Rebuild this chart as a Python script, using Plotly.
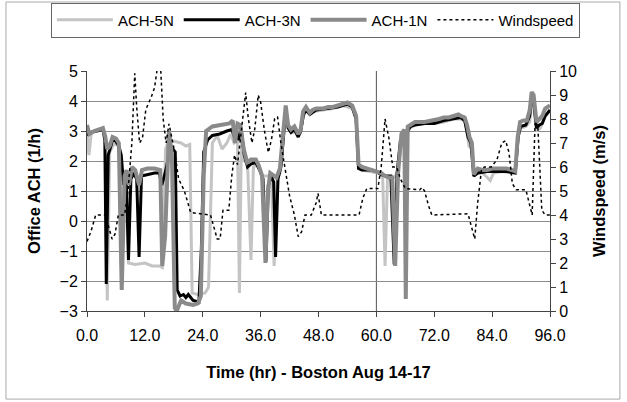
import plotly.graph_objects as go

# ---------------- data ----------------
t_5n = [0, 0.4, 0.9, 2.0, 3.3, 3.8, 4.2, 4.7, 5.5, 6.2, 6.8, 7.2, 7.7, 8.2, 8.6, 10.0, 12.0, 13.5, 15.0, 15.6,
        16.3, 17.0, 18.0, 19.5, 20.5, 21.3, 21.8, 23.0, 24.5, 25.2, 26.0, 27.0, 28.0, 29.0, 29.8, 30.5, 31.2, 31.6,
        32.0, 32.6, 33.3, 34.0, 34.5, 35.5, 36.5, 37.5, 38.2, 38.8, 39.4, 40.0, 40.6, 41.2, 41.8, 42.5, 43.5, 44.2,
        44.8, 45.5, 47.0, 49.0, 51.0, 53.0, 55.0, 55.8, 56.3, 57.0, 59.0, 60.5, 61.3, 61.8, 62.3, 63.3, 64.0, 64.6,
        65.3, 66.0, 66.5, 68.0, 70.0, 72.0, 74.0, 76.0, 77.5, 78.5, 79.2, 79.8, 80.3, 81.0, 82.0, 83.0, 83.6, 84.3,
        86.0, 88.0, 88.8, 89.4, 90.0, 91.0, 91.8, 92.2, 92.6, 93.2, 94.0, 95.0, 96.0]
ach_5n = [2.9, 2.2, 2.95, 3.0, 3.05, 2.8, -2.65, 2.3, 2.55, 2.55, 2.4, -2.2, 1.4, 1.6, -1.4, -1.45, -1.4, -1.5, -1.5, -1.55,
          2.4, 2.7, 2.65, 2.6, 2.5, 2.55, -2.4, -2.45, -2.4, -2.2, 2.6, 2.85, 2.4, 2.6, 2.9, 2.6, 2.7, -2.4,
          2.6, 2.0, 1.9, -1.3, 1.8, 1.9, 1.5, 1.5, 1.6, -1.5, 1.4, 1.6, 2.5, 3.7, 3.1, 2.95, 3.0, 2.9,
          3.5, 3.7, 3.65, 3.7, 3.75, 3.85, 3.75, 3.4, 1.8, 1.7, 1.65, 1.6, 1.5, -1.5, 1.4, 1.4, 1.5, 1.8,
          2.9, 3.0, 3.05, 3.2, 3.25, 3.25, 3.3, 3.4, 3.4, 3.3, 2.5, 2.4, 1.5, 1.6, 1.6, 1.45, 1.35, 1.6,
          1.65, 1.6, 1.6, 2.9, 3.1, 3.15, 3.3, 4.1, 3.8, 3.0, 3.1, 3.5, 3.7]

t_3n = [0, 0.5, 2.0, 3.3, 3.7, 4.0, 4.4, 5.3, 6.0, 6.6, 7.1, 7.6, 8.1, 8.6, 9.1, 9.7, 10.3, 10.8, 11.3, 12.5,
        14.0, 15.0, 15.5, 16.2, 17.0, 17.8, 18.3, 18.7, 19.3, 20.0, 20.5, 21.0, 22.0, 23.2, 23.7, 24.2, 25.0, 26.0,
        27.5, 29.0, 30.0, 30.6, 31.0, 31.5, 32.0, 32.6, 33.3, 34.0, 35.0, 35.8, 36.5, 37.1, 37.6, 38.2, 38.7, 39.1,
        39.6, 40.2, 40.7, 41.2, 41.7, 42.3, 43.0, 43.8, 44.3, 44.9, 45.4, 46.2, 47.5, 50.0, 52.0, 54.0, 55.0, 55.8,
        56.3, 57.0, 59.0, 60.0, 61.0, 62.0, 63.0, 63.7, 64.3, 65.0, 65.6, 66.3, 67.0, 68.0, 70.0, 72.0, 74.0, 76.0,
        77.5, 78.3, 79.0, 79.6, 80.2, 81.0, 83.0, 85.0, 87.0, 88.8, 89.4, 89.9, 91.0, 91.8, 92.2, 92.6, 93.2, 93.8,
        94.4, 95.0, 96.0]
ach_3n = [2.85, 2.95, 3.0, 3.05, 2.7, -2.1, 2.2, 2.7, 2.65, 2.5, 2.2, 1.2, 1.6, -1.3, 1.4, 1.6, 1.4, -1.2, 1.5, 1.55,
          1.6, 1.6, 1.2, 1.6, 2.2, 2.4, 2.3, -2.3, -2.5, -2.45, -2.55, -2.45, -2.65, -2.7, -1.0, 2.3, 2.7, 2.85,
          2.9, 3.0, 3.05, 2.8, 3.0, 2.7, 3.0, 2.2, 1.8, 1.9, 1.95, 1.7, 1.4, -1.35, 1.2, 1.5, 1.3, -1.2,
          1.4, 1.8, 2.7, 3.7, 3.1, 2.95, 3.05, 2.8, 3.0, 3.55, 3.7, 3.55, 3.7, 3.75, 3.8, 3.9, 3.8, 3.4,
          1.75, 1.7, 1.7, 1.65, 1.55, 1.5, 1.5, -1.45, 1.6, 2.7, 2.8, 2.9, 3.15, 3.2, 3.25, 3.25, 3.35, 3.4,
          3.45, 3.35, 2.8, 2.6, 1.5, 1.6, 1.65, 1.65, 1.65, 1.6, 2.8, 3.15, 3.2, 3.5, 4.2, 4.0, 3.1, 3.2,
          3.25, 3.5, 3.7]

t_1n = [0, 0.5, 1.5, 2.5, 3.3, 3.8, 4.2, 4.7, 5.3, 6.0, 6.6, 7.2, 7.8, 8.2, 8.7, 9.3, 10.0, 10.8, 11.4, 12.5,
        14.0, 15.2, 15.6, 16.2, 17.0, 17.6, 18.2, 18.6, 19.5, 20.5, 22.0, 23.0, 23.6, 24.2, 24.7, 26.0, 28.0, 29.5,
        30.2, 30.7, 31.2, 31.8, 32.5, 33.2, 34.0, 35.0, 35.6, 36.3, 37.0, 37.5, 38.0, 38.8, 39.3, 40.0, 40.6, 41.2,
        41.7, 42.3, 43.0, 43.8, 44.3, 44.8, 45.4, 46.2, 46.8, 47.5, 49.0, 50.0, 51.0, 52.0, 53.0, 54.0, 55.0, 55.8,
        56.3, 57.0, 58.0, 59.0, 60.0, 61.0, 61.8, 62.6, 63.3, 63.9, 64.5, 65.2, 65.8, 66.1, 66.5, 67.0, 68.0, 70.0,
        72.0, 73.0, 74.0, 75.0, 76.0, 77.0, 77.6, 78.3, 78.8, 79.3, 79.8, 80.2, 81.0, 82.0, 83.0, 84.0, 85.0, 86.0,
        87.0, 88.0, 88.8, 89.3, 89.8, 90.5, 91.2, 91.8, 92.2, 92.6, 93.2, 93.8, 94.4, 95.0, 96.0]
ach_1n = [3.2, 2.9, 3.0, 3.05, 3.1, 2.8, 2.4, 2.5, 2.8, 2.75, 2.6, -2.3, 1.5, 1.7, 1.2, 1.8, 1.7, 1.2, 1.7, 1.75,
          1.75, 1.7, -1.5, -0.5, 3.0, 2.2, -2.9, -3.0, -2.65, -2.75, -2.8, -2.75, -2.5, 1.5, 3.0, 3.15, 3.2, 3.25,
          3.35, 2.6, 3.25, 3.2, 2.4, 1.95, 2.05, 2.05, 1.85, 1.5, -1.4, 1.0, 1.6, 1.5, 1.45, 1.75, 2.7, 3.85,
          3.2, 3.05, 3.15, 2.9, 3.05, 3.65, 3.8, 3.6, 3.7, 3.75, 3.75, 3.8, 3.8, 3.85, 3.9, 3.95, 3.85, 3.5,
          1.9, 1.8, 1.75, 1.7, 1.65, 1.6, 1.5, 1.45, 1.45, -1.5, 1.6, 2.9, 3.05, -2.6, 3.15, 3.2, 3.3, 3.3,
          3.35, 3.4, 3.45, 3.45, 3.5, 3.55, 3.5, 3.45, 3.2, 2.8, 2.6, 1.55, 1.75, 1.7, 1.7, 1.75, 1.75, 1.75,
          1.75, 1.7, 1.65, 2.8, 3.3, 3.35, 3.35, 3.7, 4.3, 4.2, 3.3, 3.4, 3.5, 3.75, 3.85]

t_wind = [0, 0.8, 1.8, 3.8, 4.5, 5.2, 5.8, 6.5, 7.8, 8.5, 9.3, 9.9, 10.3, 10.9, 11.5, 12.2, 13.3, 14.0, 14.5, 15.3,
          15.8, 16.4, 17.0, 17.6, 18.2, 19.0, 20.2, 21.5, 25.6, 26.3, 27.0, 27.6, 28.2, 29.4, 30.0, 30.6, 31.2, 32.0,
          32.9, 33.4, 34.2, 34.8, 35.5, 36.0, 36.8, 37.6, 38.3, 38.9, 39.5, 40.2, 41.2, 42.0, 43.0, 43.8, 44.5, 45.2,
          46.5, 47.5, 47.9, 48.6, 56.4, 57.2, 58.0, 60.3, 61.0, 61.8, 62.6, 63.4, 64.2, 65.0, 66.0, 69.0, 69.5, 70.0,
          70.8, 71.5, 79.0, 79.7, 80.4, 81.0, 81.8, 82.4, 83.8, 85.0, 86.0, 86.8, 87.5, 88.2, 89.0, 91.0, 91.6, 92.3,
          92.9, 93.5, 94.3, 95.0, 96.0]
windspeed = [2.9, 3.3, 4.0, 4.0, 3.5, 3.0, 3.2, 4.0, 4.0, 5.0, 7.0, 9.9, 8.5, 7.0, 7.2, 8.4, 8.9, 9.3, 10.0, 10.0,
             8.0, 7.0, 7.8, 7.2, 6.6, 5.5, 5.0, 4.1, 4.0, 3.5, 3.0, 3.0, 4.2, 4.2, 5.6, 6.5, 6.1, 7.5,
             9.1, 8.1, 7.0, 7.6, 9.0, 8.7, 7.5, 6.6, 7.2, 8.0, 8.1, 7.0, 5.8, 4.8, 4.0, 3.1, 3.3, 4.0,
             4.0, 4.5, 4.9, 4.0, 4.0, 4.7, 5.1, 5.1, 6.0, 8.0, 7.2, 6.0, 6.0, 5.5, 5.1, 5.05, 5.15, 5.0,
             4.4, 4.0, 4.05, 3.5, 3.0, 4.5, 5.9, 6.0, 6.0, 6.3, 7.0, 7.1, 6.6, 5.3, 5.05, 5.05, 4.5, 4.0,
             7.8, 7.6, 4.2, 4.0, 4.0]

x_ticks = [0, 12, 24, 36, 48, 60, 72, 84, 96]
day_mark = 60

FONT = "Liberation Sans, Arial, sans-serif"

fig = go.Figure()
fig.add_trace(go.Scatter(x=t_5n, y=ach_5n, name="ACH-5N", mode="lines",
                         line=dict(color="#c4c4c4", width=3)))
fig.add_trace(go.Scatter(x=t_3n, y=ach_3n, name="ACH-3N", mode="lines",
                         line=dict(color="#000000", width=3)))
fig.add_trace(go.Scatter(x=t_1n, y=ach_1n, name="ACH-1N", mode="lines",
                         line=dict(color="#8a8a8a", width=4)))
fig.add_trace(go.Scatter(x=t_wind, y=windspeed, name="Windspeed", mode="lines", yaxis="y2",
                         line=dict(color="#000000", width=1.5, dash="3px,3px")))

fig.add_shape(type="line", xref="x", yref="paper", x0=day_mark, x1=day_mark, y0=0, y1=1,
              line=dict(color="#555555", width=1), layer="below")
# outer chart frame
fig.add_shape(type="rect", xref="paper", yref="paper", x0=-0.175, x1=1.151, y0=-0.367, y1=1.2875,
              line=dict(color="#aaaaaa", width=1))

fig.update_layout(
    width=627, height=402,
    margin=dict(l=87, r=77, t=71, b=91, autoexpand=False),
    paper_bgcolor="white", plot_bgcolor="white",
    font=dict(family=FONT, color="black", size=16),
    showlegend=True,
    legend=dict(orientation="h", x=-0.078, y=1.285, xanchor="left", yanchor="top",
                bordercolor="#666666", borderwidth=1, font=dict(size=15, family=FONT),
                itemwidth=56, tracegroupgap=0),
    xaxis=dict(range=[0, 96], tickvals=x_ticks, tickformat=".1f", automargin=False,
               showline=True, linecolor="#444444", linewidth=1, ticks="outside", ticklen=5,
               tickcolor="#444444", showgrid=False, zeroline=False, ticklabelstandoff=5,
               tickfont=dict(size=16),
               title=dict(text="<b>Time (hr) - Boston Aug 14-17</b>", font=dict(size=16.5), standoff=23)),
    yaxis=dict(range=[-3, 5], dtick=1, showline=True, linecolor="#444444", linewidth=1, automargin=False,
               ticks="outside", ticklen=5, tickcolor="#444444",
               showgrid=True, gridcolor="#8c8c8c", gridwidth=1, zeroline=False,
               tickfont=dict(size=16),
               title=dict(text="<b>Office ACH (1/h)</b>", font=dict(size=16.5), standoff=14)),
    yaxis2=dict(range=[0, 10], dtick=1, overlaying="y", side="right", showline=True, automargin=False,
                linecolor="#444444", linewidth=1, ticks="outside", ticklen=5, tickcolor="#444444",
                showgrid=False, zeroline=False, tickfont=dict(size=16),
                title=dict(text="<b>Windspeed (m/s)</b>", font=dict(size=16.5), standoff=17)),
)

fig.write_html("out.html")
